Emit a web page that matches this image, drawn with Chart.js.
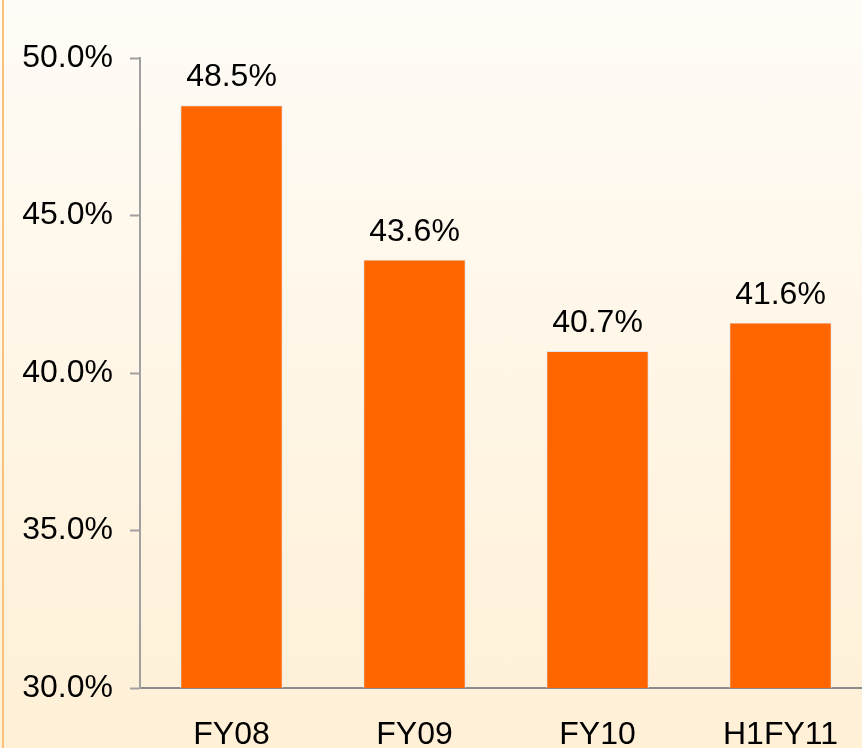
<!DOCTYPE html>
<html>
<head>
<meta charset="utf-8">
<script src="https://cdn.jsdelivr.net/npm/chart.js@4/dist/chart.umd.min.js"></script>
<style>
  html, body { margin: 0; padding: 0; width: 862px; height: 748px; overflow: hidden; }
  body { background: linear-gradient(to bottom, #fffcf7 0%, #fff0d6 100%); position: relative; }
  #edge { position: absolute; left: 2px; top: 0; width: 2px; height: 748px; background: #f9c27c; }
  #wrap { position: absolute; left: 0; top: 0; }
</style>
</head>
<body>
<div id="edge"></div>
<div id="wrap"><canvas id="c" width="872" height="748"></canvas></div>
<script>
const categories = ['FY08', 'FY09', 'FY10', 'H1FY11'];
const ratio = [48.5, 43.6, 40.7, 41.6];
const yMin = 30, yMax = 50, yStep = 5;

const fontFamily = '"Liberation Sans", Arial, sans-serif';
const fontSize = 32;

// 値ラベルを棒の上に描く
const valueLabels = {
    id: 'valueLabels',
    afterDatasetsDraw(chart) {
        const ctx = chart.ctx;
        const meta = chart.getDatasetMeta(0);
        ctx.save();
        ctx.font = fontSize + 'px ' + fontFamily;
        ctx.fillStyle = '#000';
        ctx.textAlign = 'center';
        ctx.textBaseline = 'alphabetic';
        meta.data.forEach((bar, i) => {
            ctx.fillText(ratio[i].toFixed(1) + '%', bar.x, bar.y - 19);
        });
        ctx.restore();
    }
};

new Chart(document.getElementById('c'), {
    type: 'bar',
    data: {
        labels: categories,
        datasets: [{
            data: ratio,
            backgroundColor: '#ff6600',
            borderColor: '#dfe6ee',
            borderWidth: 1,
            barPercentage: 0.56,
            categoryPercentage: 1
        }]
    },
    options: {
        responsive: false,
        animation: false,
        layout: { padding: { top: 58, right: 0, left: 0, bottom: 0 } },
        plugins: { legend: { display: false }, tooltip: { enabled: false } },
        scales: {
            x: {
                grid: { display: false, drawTicks: false },
                border: { color: '#8c8c8c', width: 2 },
                ticks: { color: '#000', font: { family: fontFamily, size: fontSize }, padding: 28 },
                afterFit(scale) { scale.height = 60; }
            },
            y: {
                min: yMin,
                max: yMax,
                grid: { drawOnChartArea: false, drawTicks: true, tickLength: 10, tickColor: '#a0a0a0', tickWidth: 2 },
                border: { color: '#a0a0a0', width: 2 },
                ticks: {
                    stepSize: yStep,
                    color: '#000',
                    padding: 17,
                    font: { family: fontFamily, size: fontSize },
                    callback: v => v.toFixed(1) + '%'
                },
                afterFit(scale) { scale.width = 140; }
            }
        }
    },
    plugins: [valueLabels]
});
</script>
</body>
</html>
